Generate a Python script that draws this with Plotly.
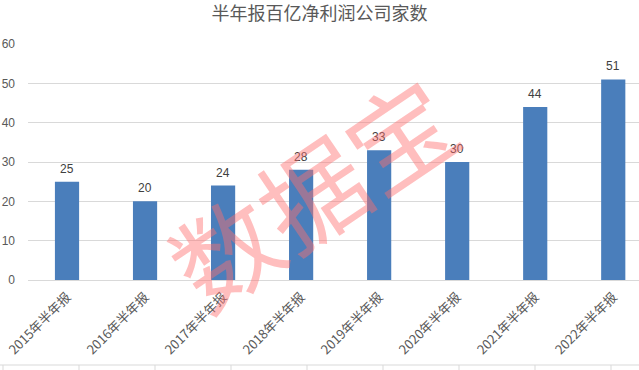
import plotly.graph_objects as go

categories = ["2015年半年报", "2016年半年报", "2017年半年报", "2018年半年报",
              "2019年半年报", "2020年半年报", "2021年半年报", "2022年半年报"]
values = [25, 20, 24, 28, 33, 30, 44, 51]
title_text = "半年报百亿净利润公司家数"
watermark = "数据宝"

FONT = "Noto Sans CJK SC, Liberation Sans, sans-serif"

fig = go.Figure()
fig.add_trace(go.Bar(
    x=categories, y=values,
    marker=dict(color="#4a7ebb", line=dict(width=0)),
))
for c, v in zip(categories, values):
    fig.add_annotation(x=c, y=v, text=str(v), showarrow=False, yanchor="bottom", yshift=4,
                       font=dict(size=12, color="#404040", family="Liberation Sans, sans-serif"))

W, H = 639, 370
L, R, T, B = 28, 0, 44, 90

fig.update_layout(
    width=W, height=H,
    margin=dict(l=L, r=R, t=T, b=B, autoexpand=False),
    paper_bgcolor="white", plot_bgcolor="white",
    bargap=0.69,
    showlegend=False,
    title=dict(text=title_text, x=0.5, xanchor="center", y=0.962, yanchor="middle",
               font=dict(size=18, color="#595959", family=FONT)),
    xaxis=dict(range=[-0.5, 7.33], tickangle=-45, showgrid=False, showline=False,
               automargin=False, ticklabelstandoff=6,
               ticks="", tickfont=dict(size=13, color="#595959", family=FONT)),
    yaxis=dict(range=[0, 60], dtick=10, showgrid=True, gridcolor="#d9d9d9", gridwidth=1,
               automargin=False,
               zeroline=True, zerolinecolor="#d9d9d9", zerolinewidth=1,
               ticks="", tickfont=dict(size=12, color="#595959", family="Liberation Sans, sans-serif"),
               ticklabelstandoff=12),
)

# bottom frame line with small ticks
ph = H - T - B
pw = W - L - R
yb = -(365 - (H - B)) / ph
ybot = -(370 - (H - B)) / ph
fig.add_shape(type="line", xref="paper", yref="paper", x0=-L / pw, x1=1, y0=yb, y1=yb,
              line=dict(color="#d9d9d9", width=1))
for px in range(3, 640, 76):
    xp = (px - L) / pw
    fig.add_shape(type="line", xref="paper", yref="paper", x0=xp, x1=xp, y0=yb, y1=ybot,
                  line=dict(color="#d9d9d9", width=1))

# watermark
fig.add_annotation(text=watermark, xref="paper", yref="paper",
                   x=(310 - L) / pw, y=1 - (190 - T) / ph, showarrow=False,
                   textangle=-34, font=dict(size=105, color="rgba(255,110,110,0.45)", family=FONT))

fig.write_html("out.html", config={"displayModeBar": False},
               post_script="document.body.style.margin='0';document.body.style.overflow='hidden';")
